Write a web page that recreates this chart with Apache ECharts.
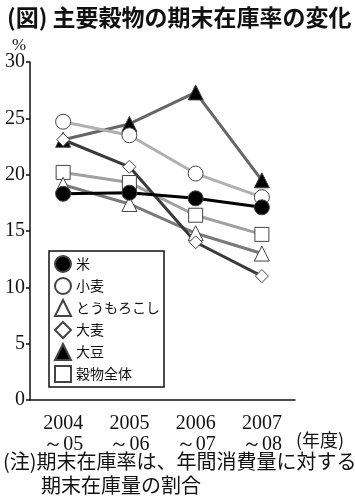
<!DOCTYPE html>
<html>
<head>
<meta charset="utf-8">
<script src="https://cdn.jsdelivr.net/npm/echarts@6/dist/echarts.min.js"></script>
<style>
html, body { margin: 0; padding: 0; background: #fff; }
#container { width: 355px; height: 500px; }
</style>
</head>
<body>
<div id="container"></div>
<script>
var years = ['2004\n～05', '2005\n～06', '2006\n～07', '2007\n～08'];
var rice = [18.3, 18.4, 17.9, 17.1];
var wheat = [24.7, 23.5, 20.1, 18.0];
var corn = [19.1, 17.4, 14.8, 13.0];
var barley = [23.1, 20.7, 14.0, 11.0];
var soy = [23.1, 24.5, 27.3, 19.5];
var total = [20.2, 19.3, 16.4, 14.7];

var dom = document.getElementById('container');
var myChart = echarts.init(dom);
var serif = '"Liberation Serif", "DejaVu Serif", serif';
var gothic = '"Noto Sans CJK JP", sans-serif';

function mkSeries(name, data, symbol, fill, lineColor, size) {
    return {
        name: name,
        type: 'line',
        data: data,
        symbol: symbol,
        symbolSize: size,
        showAllSymbol: true,
        animation: false,
        lineStyle: { color: lineColor, width: 3 },
        itemStyle: { color: fill, borderColor: '#444', borderWidth: 1, opacity: 1 },
        emphasis: { disabled: true }
    };
}

var option = {
    animation: false,
    title: {
        text: '(図) 主要穀物の期末在庫率の変化',
        left: 2,
        top: 1,
        textStyle: { fontFamily: gothic, fontSize: 23, fontWeight: 'bold', color: '#111' }
    },
    grid: { left: 30, right: 60, top: 62, bottom: 100 },
    legend: {
        orient: 'vertical',
        left: 49,
        top: 251,
        padding: [4, 4, 4, 5],
        itemGap: 4,
        itemWidth: 16,
        itemHeight: 16,
        borderColor: '#111',
        borderWidth: 1.5,
        textStyle: { fontFamily: gothic, fontSize: 14, lineHeight: 16, color: '#111' },
        data: [
            { name: '米', icon: 'circle' },
            { name: '小麦', icon: 'circle' },
            { name: 'とうもろこし', icon: 'triangle' },
            { name: '大麦', icon: 'diamond' },
            { name: '大豆', icon: 'triangle' },
            { name: '穀物全体', icon: 'rect' }
        ]
    },
    xAxis: {
        type: 'category',
        data: years,
        boundaryGap: true,
        axisLine: { lineStyle: { color: '#111', width: 1.5 } },
        axisTick: { alignWithLabel: true, inside: true, length: 6, lineStyle: { color: '#111', width: 1.5 } },
        axisLabel: { fontFamily: serif, fontSize: 20, color: '#111', lineHeight: 21, margin: 13 }
    },
    yAxis: {
        type: 'value',
        min: 0,
        max: 30,
        interval: 5,
        splitLine: { show: false },
        axisLine: { show: true, lineStyle: { color: '#111', width: 1.5 } },
        axisTick: { show: true, length: 4, lineStyle: { color: '#111', width: 1.5 } },
        axisLabel: { fontFamily: serif, fontSize: 20, color: '#111', margin: 5 }
    },
    graphic: [
        { type: 'text', left: 12, top: 37, style: { text: '%', font: '17px ' + serif, fill: '#111' } },
        { type: 'text', left: 296, top: 431, style: { text: '(年度)', font: '18px ' + gothic, fill: '#111' } },
        { type: 'text', left: 3, top: 451, style: { text: '(注)期末在庫率は、年間消費量に対する', font: '20px ' + gothic, fill: '#111' } },
        { type: 'text', left: 41, top: 475, style: { text: '期末在庫量の割合', font: '20px ' + gothic, fill: '#111' } }
    ],
    series: [
        mkSeries('大豆', soy, 'triangle', '#000', '#666', 15),
        mkSeries('小麦', wheat, 'circle', '#fff', '#b0b0b0', 15),
        mkSeries('穀物全体', total, 'rect', '#fff', '#a0a0a0', 14),
        mkSeries('とうもろこし', corn, 'triangle', '#fff', '#7a7a7a', 15),
        mkSeries('大麦', barley, 'diamond', '#fff', '#3a3a3a', 13),
        mkSeries('米', rice, 'circle', '#000', '#000', 15)
    ]
};
myChart.setOption(option);
</script>
</body>
</html>
